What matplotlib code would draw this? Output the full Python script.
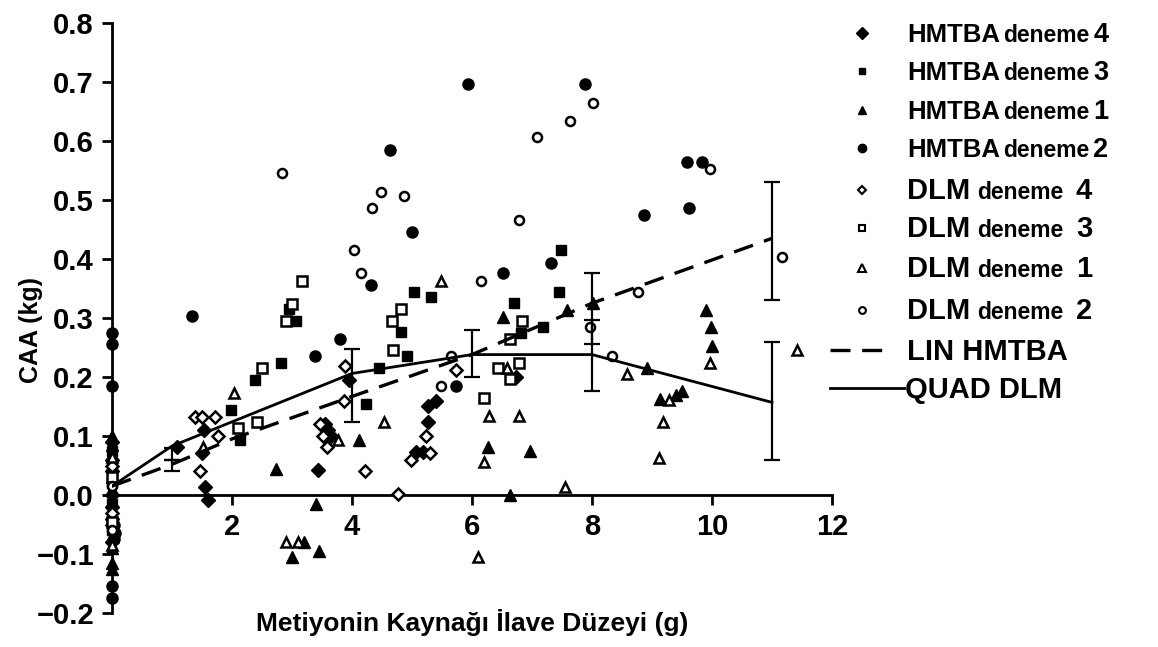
import numpy as np
import matplotlib.pyplot as plt
from matplotlib.lines import Line2D

plt.rcParams['font.family'] = ['Liberation Sans', 'DejaVu Sans']
plt.rcParams['font.weight'] = 'bold'

# HMTBA trials (filled markers)
hmtba4_x = [0, 0, 0, 0, 0, 0, 0, 1.09, 1.5, 1.53, 1.55, 1.6, 3.44, 3.55, 3.6, 3.65, 3.95,
            5.07, 5.18, 5.27, 5.27, 5.4, 6.73]
hmtba4_y = [0.09, 0.06, 0.04, 0.0, -0.02, -0.04, -0.08, 0.082, 0.072, 0.111, 0.013, -0.008,
            0.042, 0.12, 0.11, 0.10, 0.195, 0.073, 0.073, 0.123, 0.151, 0.159, 0.20]
hmtba3_x = [0, 0, 0, 0, 0, 1.99, 2.13, 2.39, 2.82, 2.95, 3.07, 4.23, 4.45, 4.82, 4.92, 5.03,
            5.31, 6.70, 6.82, 7.19, 7.45, 7.48]
hmtba3_y = [0.075, 0.045, 0.02, -0.015, -0.06, 0.144, 0.094, 0.195, 0.224, 0.315, 0.295,
            0.154, 0.216, 0.276, 0.236, 0.344, 0.335, 0.325, 0.275, 0.284, 0.344, 0.415]
hmtba1_x = [0, 0, 0, 0, 0, 0, 0, 0, 0, 0, 0, 0, 2.73, 3.0, 3.2, 3.45, 3.4, 4.12, 6.27, 6.52,
            6.63, 6.97, 7.58, 8.01, 8.91, 9.13, 9.4, 9.5, 9.9, 9.98, 10.0]
hmtba1_y = [0.10, 0.085, 0.07, 0.05, 0.03, 0.01, -0.01, -0.03, -0.07, -0.09, -0.115, -0.125,
            0.044, -0.105, -0.08, -0.095, -0.015, 0.094, 0.082, 0.302, 0.0, 0.075, 0.314,
            0.326, 0.215, 0.162, 0.17, 0.176, 0.314, 0.284, 0.253]
hmtba2_x = [0, 0, 0, 0, 0, 0.04, 0.05, 0.03, 1.33, 3.38, 3.8, 4.32, 4.63, 5.0, 5.74, 5.94,
            6.52, 7.32, 7.88, 8.87, 9.59, 9.83, 9.62]
hmtba2_y = [0.274, 0.256, 0.185, -0.155, -0.175, -0.05, -0.065, -0.075, 0.303, 0.236, 0.264,
            0.356, 0.585, 0.446, 0.185, 0.696, 0.376, 0.394, 0.696, 0.475, 0.565, 0.565,
            0.486]

# DLM trials (open markers)
dlm4_x = [0, 0, 0, 1.38, 1.5, 1.72, 1.76, 1.47, 3.47, 3.52, 3.58, 3.87, 3.88, 4.22, 4.77,
          4.98, 5.23, 5.3, 5.73]
dlm4_y = [0.05, -0.03, -0.05, 0.133, 0.133, 0.132, 0.10, 0.041, 0.121, 0.10, 0.081, 0.16,
          0.219, 0.041, 0.002, 0.06, 0.10, 0.072, 0.212]
dlm3_x = [0, 0, 2.1, 2.41, 2.5, 2.9, 3.0, 3.16, 4.67, 4.68, 4.82, 6.2, 6.44, 6.63, 6.63, 6.79,
          6.84]
dlm3_y = [0.03, -0.045, 0.113, 0.124, 0.216, 0.295, 0.324, 0.363, 0.295, 0.246, 0.315, 0.164,
          0.216, 0.264, 0.196, 0.223, 0.295]
dlm1_x = [0, 0, 1.52, 2.03, 2.9, 3.1, 3.76, 4.54, 5.49, 6.1, 6.2, 6.29, 6.59, 6.78, 7.55,
          8.59, 9.12, 9.18, 9.29, 9.96, 11.41]
dlm1_y = [0.065, -0.085, 0.082, 0.173, -0.08, -0.08, 0.093, 0.123, 0.363, -0.105, 0.056,
          0.134, 0.215, 0.134, 0.014, 0.205, 0.062, 0.123, 0.161, 0.224, 0.246]
dlm2_x = [0, 0, 2.84, 4.03, 4.15, 4.33, 4.49, 4.87, 5.48, 5.65, 6.15, 6.79, 7.08, 7.63, 7.97,
          8.01, 8.34, 8.76, 9.96, 11.16]
dlm2_y = [0.015, -0.06, 0.546, 0.416, 0.376, 0.486, 0.514, 0.506, 0.185, 0.236, 0.363, 0.466,
          0.606, 0.634, 0.284, 0.665, 0.236, 0.344, 0.553, 0.404]

# fitted responses at the supplementation levels
fit_x = [0, 1, 2, 4, 6, 8, 11]
lin_hmtba = [0.015, 0.052, 0.095, 0.167, 0.238, 0.325, 0.435]
quad_dlm = [0.015, 0.083, 0.124, 0.206, 0.238, 0.238, 0.157]

# standard errors of the means
se_x = [1, 1, 4, 6, 8, 8, 11, 11]
se_y = [0.07, 0.05, 0.185, 0.24, 0.316, 0.237, 0.43, 0.159]
se_err = [0.01, 0.01, 0.062, 0.04, 0.06, 0.06, 0.10, 0.10]

yticks = np.round(np.arange(-0.2, 0.81, 0.1), 1)
xticks = [2, 4, 6, 8, 10, 12]

series = [
    ('HMTBA', '4', hmtba4_x, hmtba4_y, 'D', True, 7.5),
    ('HMTBA', '3', hmtba3_x, hmtba3_y, 's', True, 6.5),
    ('HMTBA', '1', hmtba1_x, hmtba1_y, '^', True, 8),
    ('HMTBA', '2', hmtba2_x, hmtba2_y, 'o', True, 8),
    ('DLM', '4', dlm4_x, dlm4_y, 'D', False, 6),
    ('DLM', '3', dlm3_x, dlm3_y, 's', False, 6.5),
    ('DLM', '1', dlm1_x, dlm1_y, '^', False, 7),
    ('DLM', '2', dlm2_x, dlm2_y, 'o', False, 6.5),
]

W, H = 1158, 647
fig = plt.figure(figsize=(W / 100, H / 100), dpi=100)
ax = fig.add_axes([112 / W, 1 - 613 / H, 720 / W, 590 / H])

for name, trial, xs, ys, mk, filled, ms in series:
    ax.plot(xs, ys, ls='none', marker=mk, ms=ms, mec='black',
            mfc='black' if filled else 'white', mew=1.0 if filled else 1.8,
            clip_on=False, zorder=3)

ax.plot(fit_x, lin_hmtba, color='black', lw=2.4, ls=(0, (6, 3.5)), zorder=4)
ax.plot(fit_x, quad_dlm, color='black', lw=2.0, zorder=4)
ax.errorbar(se_x, se_y, yerr=se_err, fmt='none', ecolor='black', elinewidth=1.6,
            capsize=6, capthick=1.6, zorder=4)

ax.set_xlim(0, 12)
ax.set_ylim(-0.2, 0.8)
for s in ['top', 'right']:
    ax.spines[s].set_visible(False)
ax.spines['bottom'].set_position(('data', 0))
ax.spines['left'].set_linewidth(2)
ax.spines['bottom'].set_linewidth(2)
ax.set_xticks(xticks)
ax.set_yticks(yticks)
ax.set_yticklabels([f'{v:.1f}'.replace('-', '\u2212') for v in yticks])
ax.tick_params(axis='both', direction='out', length=7, width=2, labelsize=21)
ax.tick_params(axis='y', pad=6)
ax.tick_params(axis='x', pad=6)
for lab in ax.get_xticklabels() + ax.get_yticklabels():
    lab.set_fontweight('bold')

fig.text(31 / W, 1 - 330 / H, 'CAA (kg)', rotation=90, ha='center', va='center',
         fontsize=18, fontweight='bold')
fig.text(472 / W, 1 - 622 / H, 'Metiyonin Kaynağı İlave Düzeyi (g)', ha='center',
         va='center', fontsize=19, fontweight='bold')

# legend built piece by piece so the trial word can be smaller
rows = [33, 71, 110, 148, 190, 228, 268, 310, 350, 388]
mk_x = 862 / W
txt_x = 907 / W
sizes = {'HMTBA': (18.5, 16.5, 19.5, 2, 3), 'DLM': (21, 16.5, 21, 5, 9)}
for i, (name, trial, xs, ys, mk, filled, ms) in enumerate(series):
    big, small, digit, gap, gap2 = sizes[name]
    yb = 1 - (rows[i] + 9) / H
    yc = 1 - rows[i] / H
    fig.add_artist(Line2D([mk_x], [yc], transform=fig.transFigure, ls='none', marker=mk,
                          ms=ms * 0.75, mec='black', mfc='black' if filled else 'white',
                          mew=1.0 if filled else 1.5))
    t1 = fig.text(txt_x, yb, name, fontsize=big, fontweight='bold', va='baseline')
    t2 = ax.annotate('deneme', xy=(1, yb), xycoords=(t1, 'figure fraction'),
                     xytext=(gap, 0), textcoords='offset points', fontsize=small,
                     fontweight='bold', va='baseline', annotation_clip=False)
    ax.annotate(trial, xy=(1, yb), xycoords=(t2, 'figure fraction'), xytext=(gap2, 0),
                textcoords='offset points', fontsize=digit, fontweight='bold',
                va='baseline', annotation_clip=False)

yc = 1 - rows[8] / H
fig.add_artist(Line2D([830 / W, 888 / W], [yc, yc], transform=fig.transFigure,
                      color='black', lw=2.4, ls=(0, (6, 3.5))))
fig.text(txt_x, 1 - (rows[8] + 10) / H, 'LIN HMTBA', fontsize=21, fontweight='bold',
         va='baseline')
yc = 1 - rows[9] / H
fig.add_artist(Line2D([830 / W, 904 / W], [yc, yc], transform=fig.transFigure,
                      color='black', lw=2.0))
fig.text(905 / W, 1 - (rows[9] + 10) / H, 'QUAD DLM', fontsize=21, fontweight='bold',
         va='baseline')

fig.savefig('out.png', dpi=100)
